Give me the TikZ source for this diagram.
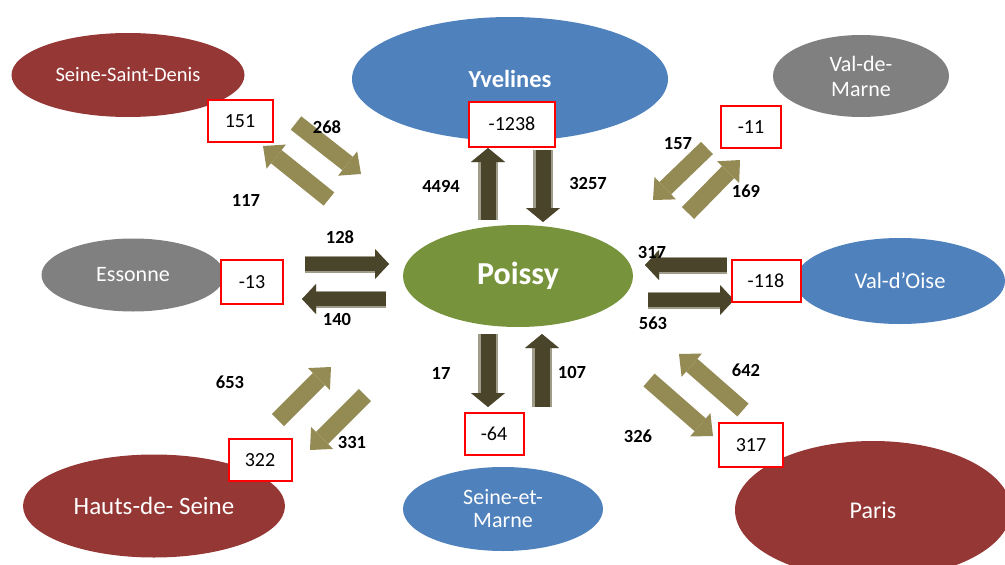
\documentclass[tikz,border=0pt]{standalone}
\usepackage{fontspec}
\setmainfont{Carlito}
\usetikzlibrary{shapes.geometric,arrows.meta}
\definecolor{regred}{HTML}{953735}
\definecolor{regblue}{HTML}{4F81BD}
\definecolor{reggray}{HTML}{808080}
\definecolor{reggreen}{HTML}{77933C}
\definecolor{arrowdark}{HTML}{4A452A}
\definecolor{arrowedge}{HTML}{A09C8A}
\definecolor{arrowtan}{HTML}{948A54}
\tikzset{
  region/.style={ellipse, inner sep=0pt, text=white, align=center,
    font=\fontsize{20}{24}\selectfont},
  netbox/.style={draw=red, line width=2pt, fill=white, inner sep=0pt,
    minimum height=42pt, font=\fontsize{20}{22}\selectfont},
  flowlbl/.style={font=\bfseries\fontsize{18.5}{20}\selectfont, text=black},
  darkv/.style={draw=arrowdark, line width=15pt,
    preaction={draw=arrowedge, line width=20pt,
      -{Triangle[width=34pt,length=14pt,line width=0pt]}},
    -{Triangle[width=34pt,length=14pt,line width=0pt]}},
  darkh/.style={draw=arrowdark, line width=14pt,
    preaction={draw=arrowedge, line width=17pt,
      -{Triangle[width=30pt,length=14pt,line width=0pt]}},
    -{Triangle[width=30pt,length=14pt,line width=0pt]}},
  tanarr/.style={draw=arrowtan, line width=17pt,
    -{Triangle[width=31pt,length=17pt,line width=0pt]}},
}
\begin{document}
\begin{tikzpicture}[x=1pt,y=-1pt]
\useasboundingbox (0,0) rectangle (1005,565);
\clip (0,0) rectangle (1005,565);

% regions
\node[region, fill=regred, minimum width=233pt, minimum height=84pt,
  font=\fontsize{20.5}{24}\selectfont] (ssd) at (128,75) {Seine-Saint-Denis};
\node[region, fill=regblue, minimum width=316pt, minimum height=124pt,
  font=\bfseries\fontsize{24.5}{28}\selectfont] (yve) at (510,79) {Yvelines};
\node[region, fill=reggray, minimum width=176pt, minimum height=82pt,
  font=\fontsize{22}{25}\selectfont] (vdm) at (861,76) {Val-de-\\Marne};
\node[region, fill=reggray, minimum width=183pt, minimum height=73pt,
  font=\fontsize{22}{24}\selectfont] (ess) at (133,275) {Essonne};
\node[region, fill=reggreen, minimum width=230pt, minimum height=102pt,
  font=\bfseries\fontsize{32}{34}\selectfont] (poi) at (518,276) {Poissy};
\node[region, fill=regblue, minimum width=210pt, minimum height=86pt,
  font=\fontsize{22.5}{24}\selectfont] (vdo) at (900,281) {Val-d'Oise};
\node[region, fill=regred, minimum width=262pt, minimum height=103pt,
  font=\fontsize{25}{28}\selectfont] (hds) at (154,506) {Hauts-de- Seine};
\node[region, fill=regblue, minimum width=200pt, minimum height=84pt,
  font=\fontsize{22}{23}\selectfont] (sem) at (503,509) {Seine-et-\\Marne};
\node[region, fill=regred, minimum width=276pt, minimum height=138pt,
  font=\fontsize{24}{26}\selectfont] (par) at (873,510) {Paris};

% arrow end points
\coordinate (a1s) at (488,220); \coordinate (a1e) at (488,148);
\coordinate (a2s) at (543,150); \coordinate (a2e) at (543,222);
\coordinate (a3s) at (305,264); \coordinate (a3e) at (389,264);
\coordinate (a4s) at (386,299); \coordinate (a4e) at (302,299);
\coordinate (a5s) at (488,334); \coordinate (a5e) at (488,407);
\coordinate (a6s) at (542,407); \coordinate (a6e) at (542,334);
\coordinate (a7s) at (727,265); \coordinate (a7e) at (645,265);
\coordinate (a8s) at (648,300); \coordinate (a8e) at (734,300);

\coordinate (t1s) at (296,123); \coordinate (t1e) at (361,174);
\coordinate (t2s) at (329,199); \coordinate (t2e) at (263,146);
\coordinate (t3s) at (707,148); \coordinate (t3e) at (653,200);
\coordinate (t4s) at (688,213); \coordinate (t4e) at (740,160);
\coordinate (t5s) at (278,420); \coordinate (t5e) at (331,367);
\coordinate (t6s) at (365,395); \coordinate (t6e) at (310,450);
\coordinate (t7s) at (649,380); \coordinate (t7e) at (713,436);
\coordinate (t8s) at (743,410); \coordinate (t8e) at (679,354);

% dark arrows
\draw[darkv] (a1s) -- (a1e);
\draw[darkv] (a2s) -- (a2e);
\draw[darkh] (a3s) -- (a3e);
\draw[darkh] (a4s) -- (a4e);
\draw[darkv] (a5s) -- (a5e);
\draw[darkv] (a6s) -- (a6e);
\draw[darkh] (a7s) -- (a7e);
\draw[darkh] (a8s) -- (a8e);

% tan arrows
\draw[tanarr] (t1s) -- (t1e);
\draw[tanarr] (t2s) -- (t2e);
\draw[tanarr] (t3s) -- (t3e);
\draw[tanarr] (t4s) -- (t4e);
\draw[tanarr] (t5s) -- (t5e);
\draw[tanarr] (t6s) -- (t6e);
\draw[tanarr] (t7s) -- (t7e);
\draw[tanarr] (t8s) -- (t8e);

% net boxes
\node[netbox, minimum width=65pt] (bssd) at (240,121) {151};
\node[netbox, minimum width=86pt, minimum height=45pt] (byve) at (512,124) {-1238};
\node[netbox, minimum width=60pt] (bvdm) at (751,127) {-11};
\node[netbox, minimum width=62pt, minimum height=44pt] (bess) at (252,282) {-13};
\node[netbox, minimum width=63pt] (bhds) at (260,460) {322};
\node[netbox, minimum width=59pt] (bsem) at (494,434) {-64};
\node[netbox, minimum width=69pt] (bvdo) at (766,281) {-118};
\node[netbox, minimum width=64pt, minimum height=44pt] (bpar) at (751,445) {317};

% flow labels
\node[flowlbl] (l268) at (327,127) {268};
\node[flowlbl] (l117) at (246,200) {117};
\node[flowlbl] (l4494) at (441,186) {4494};
\node[flowlbl] (l3257) at (588,183) {3257};
\node[flowlbl] (l157) at (678,144) {157};
\node[flowlbl] (l169) at (746,191) {169};
\node[flowlbl] (l128) at (340,237) {128};
\node[flowlbl] (l140) at (337,319) {140};
\node[flowlbl] (l317) at (652,252) {317};
\node[flowlbl] (l563) at (653,323) {563};
\node[flowlbl] (l653) at (230,382) {653};
\node[flowlbl] (l331) at (352,442) {331};
\node[flowlbl] (l17) at (441,373) {17};
\node[flowlbl] (l107) at (572,372) {107};
\node[flowlbl] (l326) at (638,436) {326};
\node[flowlbl] (l642) at (746,370) {642};
\end{tikzpicture}
\end{document}
